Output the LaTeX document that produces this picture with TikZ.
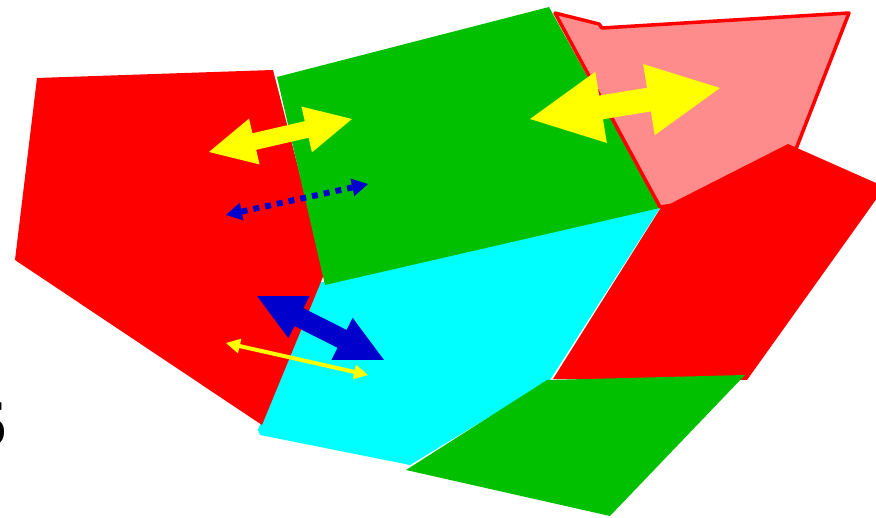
\documentclass[tikz,border=0pt]{standalone}
\usepackage{fontspec}
\newfontfamily\sixfont{Liberation Serif}
\usetikzlibrary{calc}
\definecolor{cred}{RGB}{255,0,0}
\definecolor{cgreen}{RGB}{0,192,0}
\definecolor{ccyan}{RGB}{0,255,255}
\definecolor{cyellow}{RGB}{255,255,0}
\definecolor{cblue}{RGB}{0,0,204}
\definecolor{cpink}{RGB}{255,140,140}
\tikzset{
  region/.style={fill=#1, draw=none},
  hatchregion/.style={fill=cpink, draw=cred, line width=3.5pt, line join=round},
}
% double-headed block arrow: #1 tip A, #2 tip B, #3 shaft half width, #4 head half width, #5 head length, #6 colour
\newcommand\dblarr[6]{%
  \coordinate (pA) at ($(#1)!#5!(#2)$);
  \coordinate (pB) at ($(#2)!#5!(#1)$);
  \fill[#6] (#1) -- ($(pA)!#4!90:(#2)$) -- ($(pA)!#3!90:(#2)$) -- ($(pB)!#3!-90:(#1)$) -- ($(pB)!#4!-90:(#1)$)
    -- (#2) -- ($(pB)!#4!90:(#1)$) -- ($(pB)!#3!90:(#1)$) -- ($(pA)!#3!-90:(#2)$) -- ($(pA)!#4!-90:(#2)$) -- cycle;
}
\begin{document}
\begin{tikzpicture}[x=1pt,y=-1pt]
\useasboundingbox (0,0) rectangle (876,518);
\clip (0,0) rectangle (876,518);
% cyan quad (under the red pentagon, so no gap shows between them)
\fill[region=ccyan] (314,284) -- (660,208) -- (550,380) -- (410,465) -- (260,435) -- (258,430) -- cycle;
% left red pentagon
\fill[region=cred] (37,78) -- (273,70) -- (325,272) -- (262,425) -- (15,260) -- cycle;
% top green quad
\fill[region=cgreen] (277,77) -- (549,7) -- (660,208) -- (325,285) -- cycle;
% hatched pink region
\draw[hatchregion] (555,13) -- (599,24) -- (602,28) -- (849,13) -- (780,190) -- (660,207) -- cycle;
% right red quad
\fill[region=cred] (660,209) -- (788,144) -- (885,187) -- (747,380) -- (553,379) -- cycle;
% bottom green quad
\fill[region=cgreen] (547,380) -- (745,375) -- (610,516) -- (406,470) -- cycle;
% cut-off text
\node[font=\sixfont\fontsize{66}{66}\selectfont, anchor=base east, inner sep=0pt] (six) at (7,446) {6};
% arrows
\coordinate (ya1) at (209,152); \coordinate (ya2) at (352,119);
\dblarr{ya1}{ya2}{8.5pt}{23.5pt}{46.5pt}{cyellow}
\coordinate (yb1) at (530,119); \coordinate (yb2) at (720,88);
\dblarr{yb1}{yb2}{12pt}{36pt}{72pt}{cyellow}
\coordinate (ba1) at (257,296); \coordinate (ba2) at (384,360);
\dblarr{ba1}{ba2}{10pt}{23.5pt}{47pt}{cblue}
\coordinate (yc1) at (226,343); \coordinate (yc2) at (368,375);
\dblarr{yc1}{yc2}{2pt}{7.5pt}{14pt}{cyellow}
% dotted blue arrow
\coordinate (bd1) at (226,215); \coordinate (bd2) at (368,184);
\coordinate (bdA) at ($(bd1)!16pt!(bd2)$);
\coordinate (bdB) at ($(bd2)!16pt!(bd1)$);
\draw[cblue, line width=6pt, dash pattern=on 6pt off 6pt] (bdA) -- (bdB);
\fill[cblue] (bd1) -- ($(bdA)!9pt!90:(bd2)$) -- ($(bdA)!9pt!-90:(bd2)$) -- cycle;
\fill[cblue] (bd2) -- ($(bdB)!9pt!90:(bd1)$) -- ($(bdB)!9pt!-90:(bd1)$) -- cycle;
\end{tikzpicture}
\end{document}
